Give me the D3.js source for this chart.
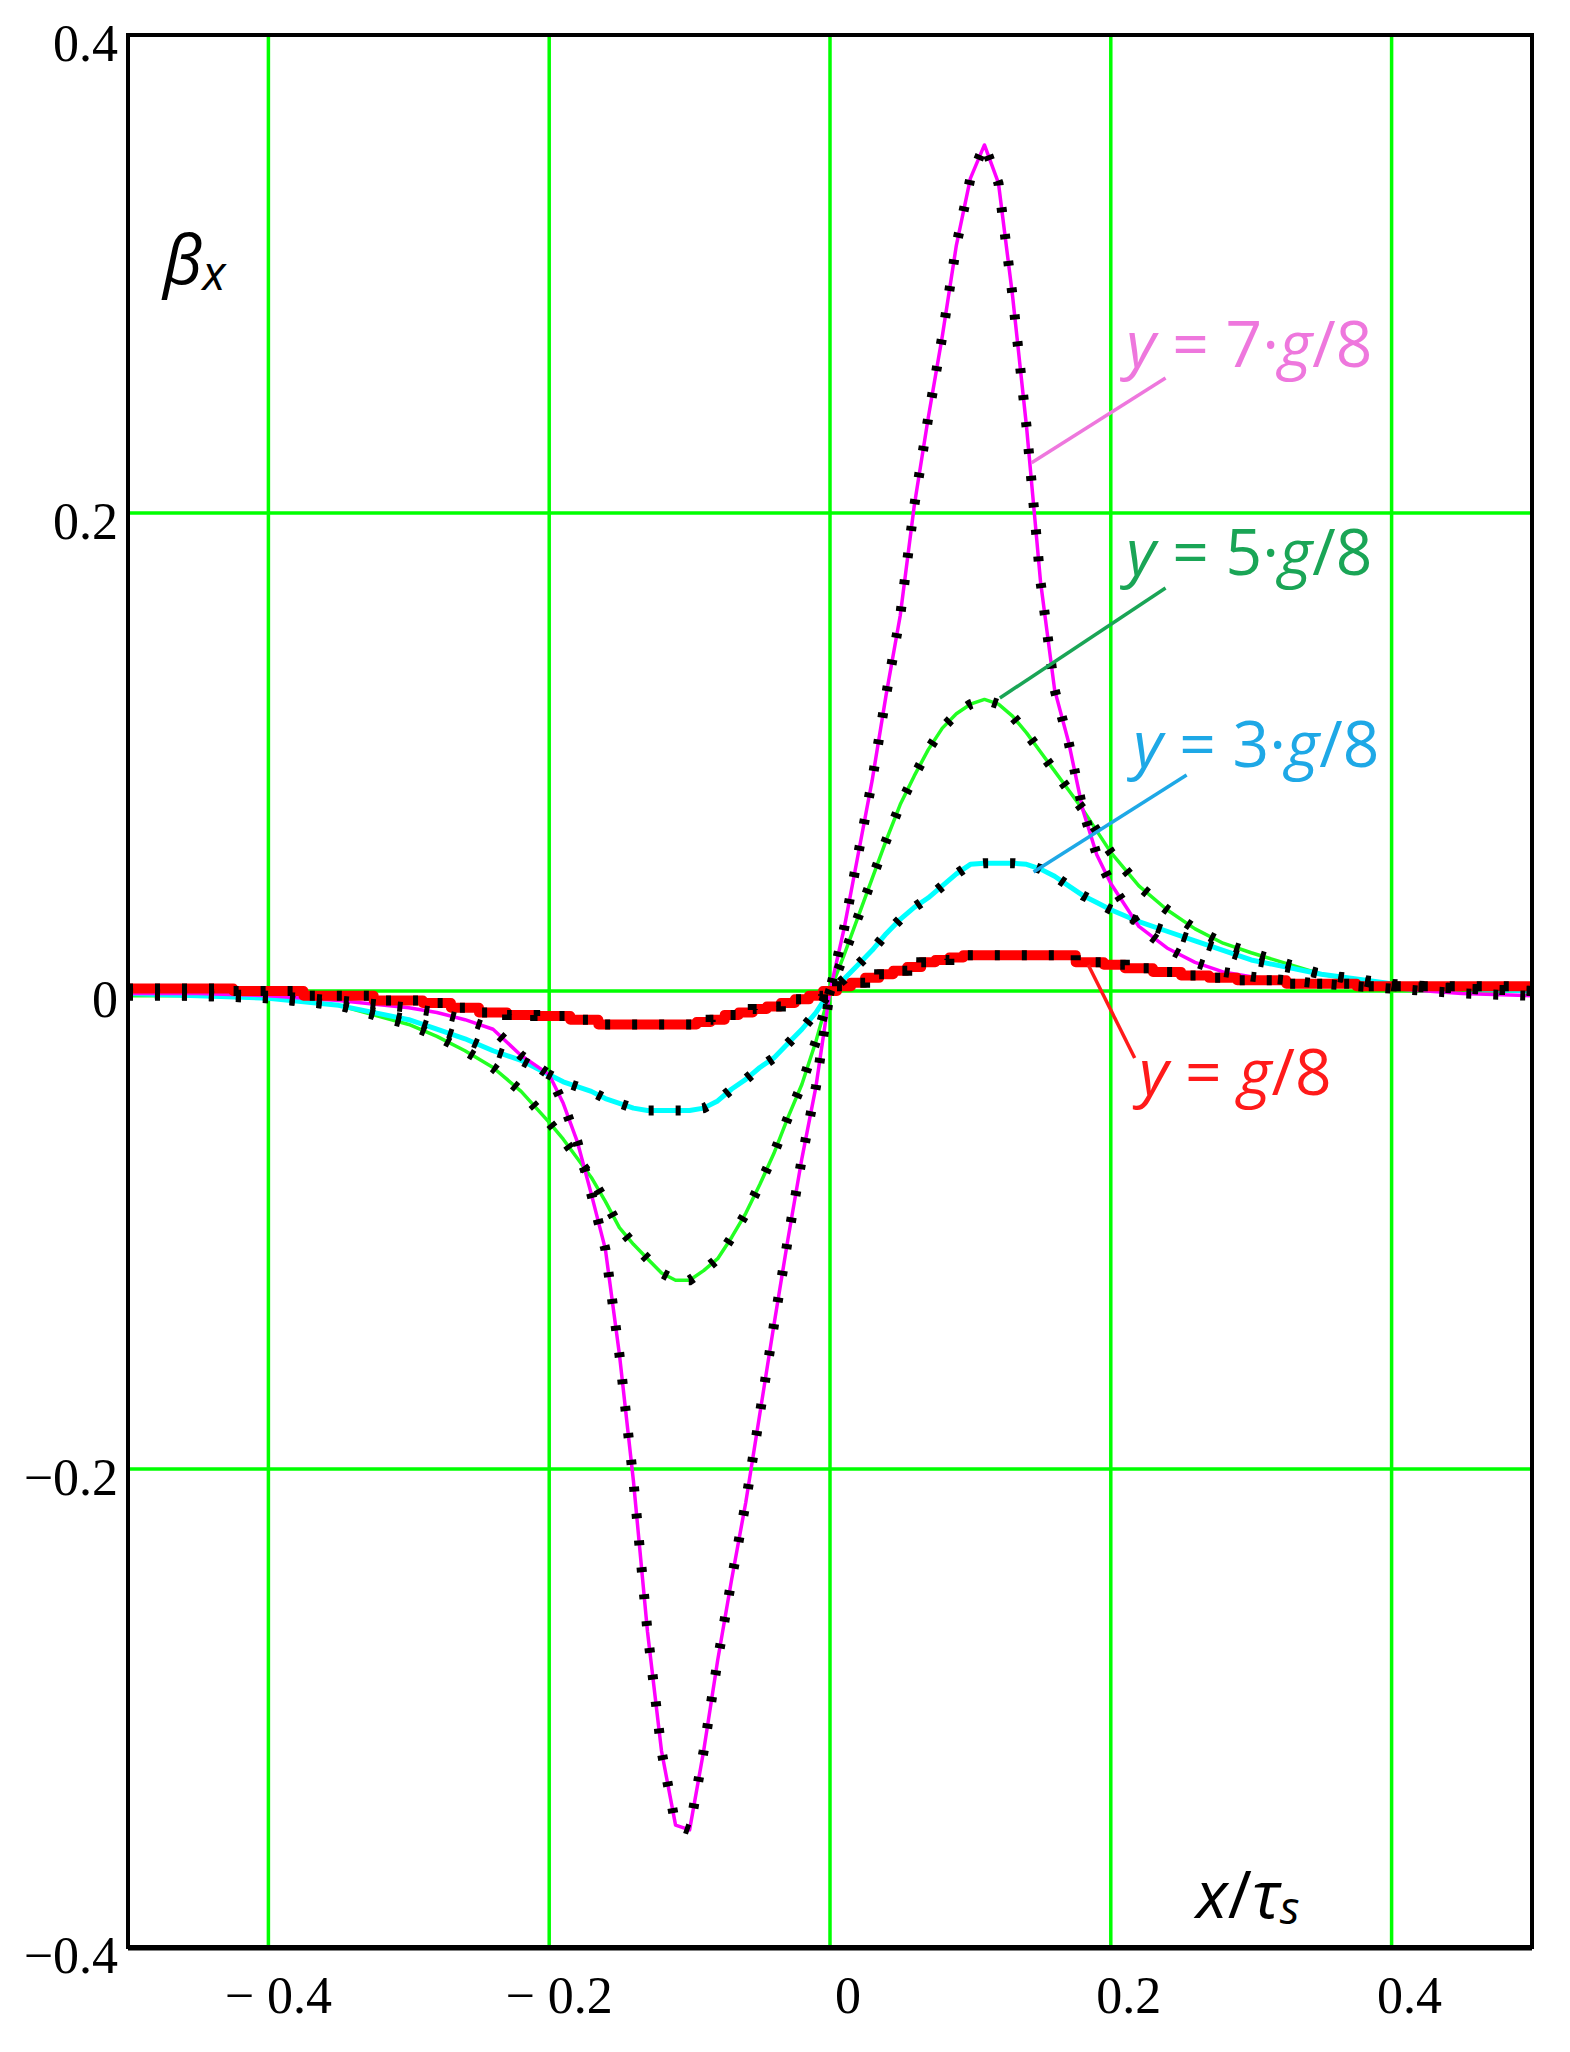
<!DOCTYPE html>
<html>
<head>
<meta charset="utf-8">
<script src="https://cdn.jsdelivr.net/npm/d3@7"></script>
<style>
  body { margin: 0; background: #fff; }
  text { white-space: pre; }
  .tick { font-family: "Liberation Serif", "DejaVu Serif", serif; font-size: 52px; fill: #000; }
  .lbl { font-family: "Open Sans", "Noto Sans", sans-serif; font-size: 64px; }
  .axisLb { font-family: "Open Sans", "Noto Sans", sans-serif; fill: #000; }
</style>
</head>
<body>
<div id="main"></div>
<script>
var ctx = {
    w: 1570,
    h: 2052,
    left: 128, right: 1532, top: 35, bottom: 1947
};

// x / tau_s sample positions (shared by all curves)
var xs = [-0.5,-0.45,-0.4,-0.35,-0.3,-0.28,-0.26,-0.24,-0.22,-0.2,
          -0.19,-0.18,-0.17,-0.16,-0.15,-0.14,-0.13,-0.12,-0.11,-0.1,
          -0.09,-0.08,-0.07,-0.06,-0.05,-0.04,-0.03,-0.02,-0.01,0,
          0.01,0.02,0.03,0.04,0.05,0.06,0.07,0.08,0.09,0.1,
          0.11,0.12,0.13,0.14,0.15,0.16,0.17,0.18,0.19,0.2,
          0.22,0.24,0.26,0.28,0.3,0.35,0.4,0.45,0.5];

// beta_x for y = 7g/8
var beta78 = [-0.001,-0.001,-0.002,-0.004,-0.007,-0.009,-0.012,-0.016,-0.027,-0.035,
              -0.047,-0.063,-0.085,-0.108,-0.152,-0.205,-0.268,-0.318,-0.349,-0.351,
              -0.318,-0.280,-0.246,-0.214,-0.177,-0.140,-0.104,-0.070,-0.040,0,
              0.026,0.057,0.088,0.124,0.157,0.203,0.240,0.274,0.312,0.340,
              0.354,0.338,0.291,0.236,0.171,0.126,0.104,0.076,0.057,0.045,
              0.027,0.018,0.012,0.008,0.006,0.003,0.001,-0.001,-0.002];
// beta_x for y = 5g/8
var beta58 = [-0.002,-0.002,-0.003,-0.006,-0.014,-0.019,-0.025,-0.032,-0.042,-0.055,
              -0.062,-0.070,-0.078,-0.088,-0.099,-0.106,-0.112,-0.118,-0.121,-0.121,
              -0.117,-0.112,-0.103,-0.093,-0.081,-0.068,-0.053,-0.039,-0.021,0,
              0.015,0.031,0.047,0.063,0.078,0.090,0.101,0.110,0.116,0.120,
              0.122,0.120,0.115,0.108,0.100,0.092,0.084,0.076,0.067,0.058,
              0.044,0.034,0.026,0.020,0.016,0.007,0.002,0.001,0.000];
// beta_x for y = 3g/8
var beta38 = [-0.001,-0.002,-0.003,-0.006,-0.012,-0.016,-0.020,-0.025,-0.029,-0.035,
              -0.038,-0.040,-0.042,-0.045,-0.047,-0.049,-0.050,-0.050,-0.050,-0.050,
              -0.049,-0.046,-0.041,-0.037,-0.032,-0.028,-0.022,-0.016,-0.009,0,
              0.005,0.011,0.017,0.024,0.030,0.035,0.039,0.044,0.049,0.053,
              0.0535,0.0535,0.0535,0.053,0.051,0.048,0.044,0.040,0.037,0.034,
              0.029,0.025,0.021,0.017,0.013,0.007,0.003,0.001,0.000];
// beta_x for y = g/8
var beta18 = [0.001,0.001,0.000,-0.002,-0.004,-0.005,-0.007,-0.009,-0.010,-0.0105,
              -0.0105,-0.012,-0.012,-0.014,-0.014,-0.014,-0.014,-0.014,-0.014,-0.014,
              -0.013,-0.012,-0.010,-0.009,-0.0075,-0.0065,-0.005,-0.0035,-0.002,0,
              0.002,0.0035,0.0055,0.007,0.0085,0.010,0.012,0.013,0.014,0.015,
              0.015,0.015,0.015,0.015,0.015,0.015,0.015,0.012,0.012,0.011,
              0.0095,0.008,0.0065,0.0055,0.0045,0.003,0.002,0.002,0.002];

var xTicks = [-0.4, -0.2, 0, 0.2, 0.4];
var yTicks = [-0.4, -0.2, 0, 0.2, 0.4];

var series = [
    {name: "5g8", values: beta58, color: "#22ff22", width: 3.5},
    {name: "3g8", values: beta38, color: "#00ffff", width: 5},
    {name: "7g8", values: beta78, color: "#ff00ff", width: 3.5},
    {name: "1g8", values: beta18, color: "#ff0000", width: 10, step: true}
];

// curve labels: text pieces (italic flag), anchor in data units, leader line in data units
var labels = [
    {parts: [["y",1],[" = 7·",0],["g",1],["/8",0]], color: "#ee77dd", at: [0.211, 0.261], lead: [[0.239, 0.2565], [0.1436, 0.221]]},
    {parts: [["y",1],[" = 5·",0],["g",1],["/8",0]], color: "#1aa556", at: [0.211, 0.174], lead: [[0.239, 0.1686], [0.121, 0.1226]]},
    {parts: [["y",1],[" = 3·",0],["g",1],["/8",0]], color: "#1ea8e6", at: [0.216, 0.0937], lead: [[0.254, 0.0904], [0.145, 0.0498]]},
    {parts: [["y",1],[" = ",0],["g",1],["/8",0]], color: "#ff1a1a", at: [0.22, -0.0435], lead: [[0.217, -0.028], [0.184, 0.0109]]}
];

var createViz = function(){
    var svg = d3.select("#main").append("svg")
        .attr("width", ctx.w).attr("height", ctx.h);
    svg.append("rect").attr("width", ctx.w).attr("height", ctx.h).attr("fill", "#fff");

    ctx.xScale = d3.scaleLinear().domain([-0.5, 0.5]).range([ctx.left, ctx.right]);
    ctx.yScale = d3.scaleLinear().domain([-0.4, 0.4]).range([ctx.bottom, ctx.top]);

    // green grid
    var grid = svg.append("g").attr("id", "grid");
    grid.selectAll("line.v").data(xTicks).enter().append("line")
        .attr("x1", d => ctx.xScale(d)).attr("x2", d => ctx.xScale(d))
        .attr("y1", ctx.top).attr("y2", ctx.bottom)
        .attr("stroke", "#00ff00").attr("stroke-width", 3.5);
    grid.selectAll("line.h").data(yTicks.filter(d => Math.abs(d) < 0.4)).enter().append("line")
        .attr("y1", d => ctx.yScale(d)).attr("y2", d => ctx.yScale(d))
        .attr("x1", ctx.left).attr("x2", ctx.right)
        .attr("stroke", "#00ff00").attr("stroke-width", 3.5);

    // curves
    var curvesG = svg.append("g").attr("id", "curves");
    var mkLine = function(s){
        return d3.line()
            .x((d, i) => ctx.xScale(xs[i]))
            .y(d => ctx.yScale(d))
            .curve(s.step ? d3.curveStep : d3.curveLinear);
    };
    series.forEach(function(s){
        curvesG.append("path")
            .attr("d", mkLine(s)(s.values))
            .attr("fill", "none")
            .attr("stroke", s.color)
            .attr("stroke-width", s.width)
            .attr("stroke-linejoin", "round");
    });
    // black dashed overlay (thick short dashes look like ticks across the curve)
    series.forEach(function(s){
        curvesG.append("path")
            .attr("d", mkLine(s)(s.values))
            .attr("fill", "none")
            .attr("stroke", "#000")
            .attr("stroke-width", 10)
            .attr("stroke-dasharray", "5,22");
    });

    // frame
    svg.append("rect")
        .attr("x", ctx.left).attr("y", ctx.top)
        .attr("width", ctx.right - ctx.left).attr("height", ctx.bottom - ctx.top)
        .attr("fill", "none").attr("stroke", "#000").attr("stroke-width", 4);
    svg.append("line")
        .attr("x1", ctx.left).attr("x2", ctx.right)
        .attr("y1", ctx.bottom + 1).attr("y2", ctx.bottom + 1)
        .attr("stroke", "#000").attr("stroke-width", 5);

    // tick labels
    svg.append("g").selectAll("text").data(yTicks).enter().append("text")
        .classed("tick", true)
        .attr("x", ctx.left - 10)
        .attr("y", d => ctx.yScale(d) + 26)
        .attr("text-anchor", "end")
        .text(d => d === 0 ? "0" : (d < 0 ? "\u2212" + Math.abs(d) : String(d)));
    svg.append("g").selectAll("text").data(xTicks).enter().append("text")
        .classed("tick", true)
        .attr("x", d => ctx.xScale(d) + (d < 0 ? 10 : 18))
        .attr("y", 2013)
        .attr("text-anchor", "middle")
        .text(d => d === 0 ? "0" : (d < 0 ? "\u2212 " + Math.abs(d) : String(d)));

    // axis labels
    var bl = svg.append("text").classed("axisLb", true)
        .attr("x", 163).attr("y", 284);
    bl.append("tspan").attr("font-style", "italic").attr("font-size", 68).text("β");
    bl.append("tspan").attr("font-style", "italic").attr("font-size", 48).attr("dy", 6).text("x");

    var xl = svg.append("text").classed("axisLb", true)
        .attr("x", 1196).attr("y", 1918).attr("font-size", 66);
    xl.append("tspan").attr("font-style", "italic").text("x");
    xl.append("tspan").text("/");
    xl.append("tspan").attr("font-style", "italic").text("τ");
    xl.append("tspan").attr("font-style", "italic").attr("font-size", 46).attr("dy", 6).text("s");

    // curve labels with leader lines
    var lg = svg.append("g").attr("id", "labels");
    labels.forEach(function(l){
        lg.append("line")
            .attr("x1", ctx.xScale(l.lead[0][0])).attr("y1", ctx.yScale(l.lead[0][1]))
            .attr("x2", ctx.xScale(l.lead[1][0])).attr("y2", ctx.yScale(l.lead[1][1]))
            .attr("stroke", l.color).attr("stroke-width", 3.5);
        var t = lg.append("text").classed("lbl", true)
            .attr("x", ctx.xScale(l.at[0])).attr("y", ctx.yScale(l.at[1]))
            .attr("fill", l.color);
        l.parts.forEach(function(p){
            t.append("tspan").attr("font-style", p[1] ? "italic" : "normal").text(p[0]);
        });
    });
};

createViz();
</script>
</body>
</html>
